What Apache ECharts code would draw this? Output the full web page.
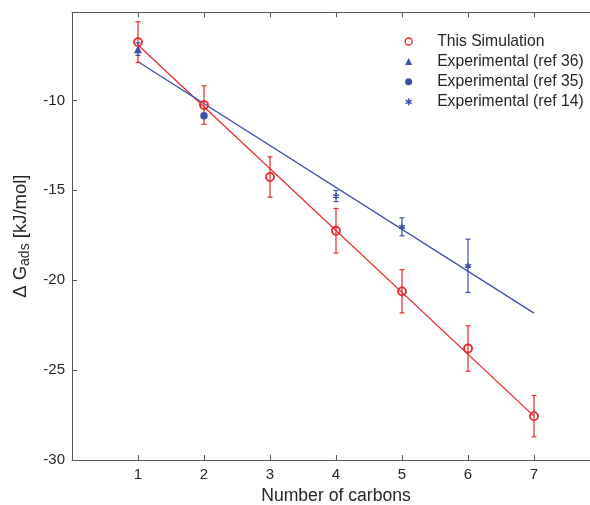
<!DOCTYPE html>
<html>
<head>
<meta charset="utf-8">
<script src="https://cdn.jsdelivr.net/npm/echarts@6/dist/echarts.min.js"></script>
<style>html,body{margin:0;padding:0;background:#fff;overflow:hidden;width:590px;height:505px}#c{width:590px;height:505px;overflow:hidden}</style>
</head>
<body>
<div id="c"></div>
<script>
// ---- data ----
const carbons = [1, 2, 3, 4, 5, 6, 7];
const simValues = [-6.76, -10.26, -14.26, -17.25, -20.62, -23.8, -27.56];
const simErrors = [1.13, 1.07, 1.12, 1.24, 1.2, 1.26, 1.15];

const ref36X = [1];
const ref36Values = [-7.15];
const ref36Errors = [0.35];

const ref35X = [2];
const ref35Values = [-10.86];

const ref14X = [4, 5, 6];
const ref14Values = [-15.32, -17.03, -19.2];
const ref14Errors = [0.31, 0.5, 1.48];

const simFitX = [1, 7];
const simFitValues = [-6.92, -27.56];
const expFitX = [1, 7];
const expFitValues = [-7.85, -21.83];

const xTickValues = [1, 2, 3, 4, 5, 6, 7];
const yTickValues = [-30, -25, -20, -15, -10];

const seriesNames = ['This Simulation', 'Experimental (ref 36)', 'Experimental (ref 35)', 'Experimental (ref 14)'];

// ---- styles ----
const RED = '#e8282b';
const BLUE = '#3d51a6';
const AXIS = '#555';
const TXT = '#262626';
const FONT = '"Liberation Sans", Arial, Helvetica, sans-serif';
const STAR = 'path://M0,-10L0,10M-8.66,-5L8.66,5M-8.66,5L8.66,-5';

const zip = (xs, ys, es) => xs.map((x, i) => es ? [x, ys[i], es[i]] : [x, ys[i]]);

function errBar(color) {
  return function (params, api) {
    const x = api.value(0), y = api.value(1), e = api.value(2);
    const t = api.coord([x, y + e]);
    const b = api.coord([x, y - e]);
    const w = 2.5;
    const st = { stroke: color, lineWidth: 1.2 };
    return {
      type: 'group',
      children: [
        { type: 'line', shape: { x1: t[0], y1: t[1], x2: b[0], y2: b[1] }, style: st },
        { type: 'line', shape: { x1: t[0] - w, y1: t[1], x2: t[0] + w, y2: t[1] }, style: st },
        { type: 'line', shape: { x1: b[0] - w, y1: b[1], x2: b[0] + w, y2: b[1] }, style: st }
      ]
    };
  };
}

const chart = echarts.init(document.getElementById('c'), null, { renderer: 'canvas', width: 590, height: 505 });
chart.setOption({
  animation: false,
  backgroundColor: '#fff',
  textStyle: { fontFamily: FONT },
  grid: { left: 72, top: 12.3, width: 528, height: 447.7, containLabel: false, outerBoundsMode: 'none' },
  legend: {
    orient: 'vertical',
    left: 399.5,
    top: 28.5,
    padding: 5,
    itemWidth: 7,
    itemHeight: 7,
    itemGap: 4.1,
    textStyle: { fontSize: 15.7, color: TXT, fontFamily: FONT, padding: [0, 0, 0, 20] },
    data: [
      { name: seriesNames[0], icon: 'circle', itemStyle: { color: 'rgba(255,255,255,0)', borderColor: RED, borderWidth: 1.3 } },
      { name: seriesNames[1], icon: 'triangle', itemStyle: { color: BLUE, borderWidth: 0 } },
      { name: seriesNames[2], icon: 'circle', itemStyle: { color: BLUE, borderWidth: 0 } },
      { name: seriesNames[3], icon: STAR, itemStyle: { color: BLUE, borderColor: BLUE, borderWidth: 1.5 } }
    ]
  },
  xAxis: [{
    type: 'value', min: 0, max: 8, interval: 1,
    name: 'Number of carbons', nameLocation: 'middle', nameGap: 25,
    nameTextStyle: { fontSize: 17.6, color: TXT, fontFamily: FONT },
    axisLine: { show: true, lineStyle: { color: AXIS, width: 1 } },
    axisTick: { show: true, inside: true, length: 5, customValues: xTickValues, lineStyle: { color: AXIS } },
    axisLabel: { customValues: xTickValues, fontSize: 15, color: TXT, margin: 7, fontFamily: FONT },
    splitLine: { show: false }
  }, {
    type: 'value', position: 'top', min: 0, max: 8, interval: 1,
    axisLine: { show: true, lineStyle: { color: AXIS, width: 1 } },
    axisTick: { show: true, inside: true, length: 5, customValues: xTickValues, lineStyle: { color: AXIS } },
    axisLabel: { show: false },
    splitLine: { show: false }
  }],
  yAxis: {
    type: 'value', min: -30, max: -5.1, interval: 5,
    name: '{n|Δ G}{s|ads}{n| [kJ/mol]}', nameLocation: 'middle', nameGap: 31,
    nameRotate: 90,
    nameTextStyle: {
      color: TXT, fontFamily: FONT,
      rich: {
        n: { fontSize: 18.5, color: TXT, fontFamily: FONT, verticalAlign: 'middle', lineHeight: 24 },
        s: { fontSize: 14, color: TXT, fontFamily: FONT, verticalAlign: 'bottom', lineHeight: 12 }
      }
    },
    axisLine: { show: true, lineStyle: { color: AXIS, width: 1 } },
    axisTick: { show: true, inside: true, length: 5, customValues: yTickValues, lineStyle: { color: AXIS } },
    axisLabel: { customValues: yTickValues, fontSize: 15, color: TXT, margin: 7, fontFamily: FONT },
    splitLine: { show: false }
  },
  series: [
    { type: 'line', name: 'simFit', data: zip(simFitX, simFitValues), symbol: 'none', lineStyle: { color: RED, width: 1.3 }, z: 2, silent: true },
    { type: 'line', name: 'expFit', data: zip(expFitX, expFitValues), symbol: 'none', lineStyle: { color: BLUE, width: 1.3 }, z: 2, silent: true },
    { type: 'custom', name: 'simErr', data: zip(carbons, simValues, simErrors), renderItem: errBar(RED), encode: { x: 0, y: 1 }, z: 3 },
    { type: 'custom', name: 'ref36Err', data: zip(ref36X, ref36Values, ref36Errors), renderItem: errBar(BLUE), encode: { x: 0, y: 1 }, z: 3 },
    { type: 'custom', name: 'ref14Err', data: zip(ref14X, ref14Values, ref14Errors), renderItem: errBar(BLUE), encode: { x: 0, y: 1 }, z: 3 },
    { type: 'scatter', name: seriesNames[0], data: zip(carbons, simValues), symbol: 'circle', symbolSize: 8, itemStyle: { color: 'rgba(255,255,255,0)', borderColor: RED, borderWidth: 1.8, opacity: 1 }, z: 5 },
    { type: 'scatter', name: seriesNames[1], data: zip(ref36X, ref36Values), symbol: 'triangle', symbolSize: 8, itemStyle: { color: BLUE, opacity: 1 }, z: 4 },
    { type: 'scatter', name: seriesNames[2], data: zip(ref35X, ref35Values), symbol: 'circle', symbolSize: 7.5, itemStyle: { color: BLUE, opacity: 1 }, z: 4 },
    { type: 'scatter', name: seriesNames[3], data: zip(ref14X, ref14Values), symbol: STAR, symbolSize: 6, itemStyle: { color: BLUE, borderColor: BLUE, borderWidth: 1.5, opacity: 1 }, z: 4 }
  ]
});
</script>
</body>
</html>
